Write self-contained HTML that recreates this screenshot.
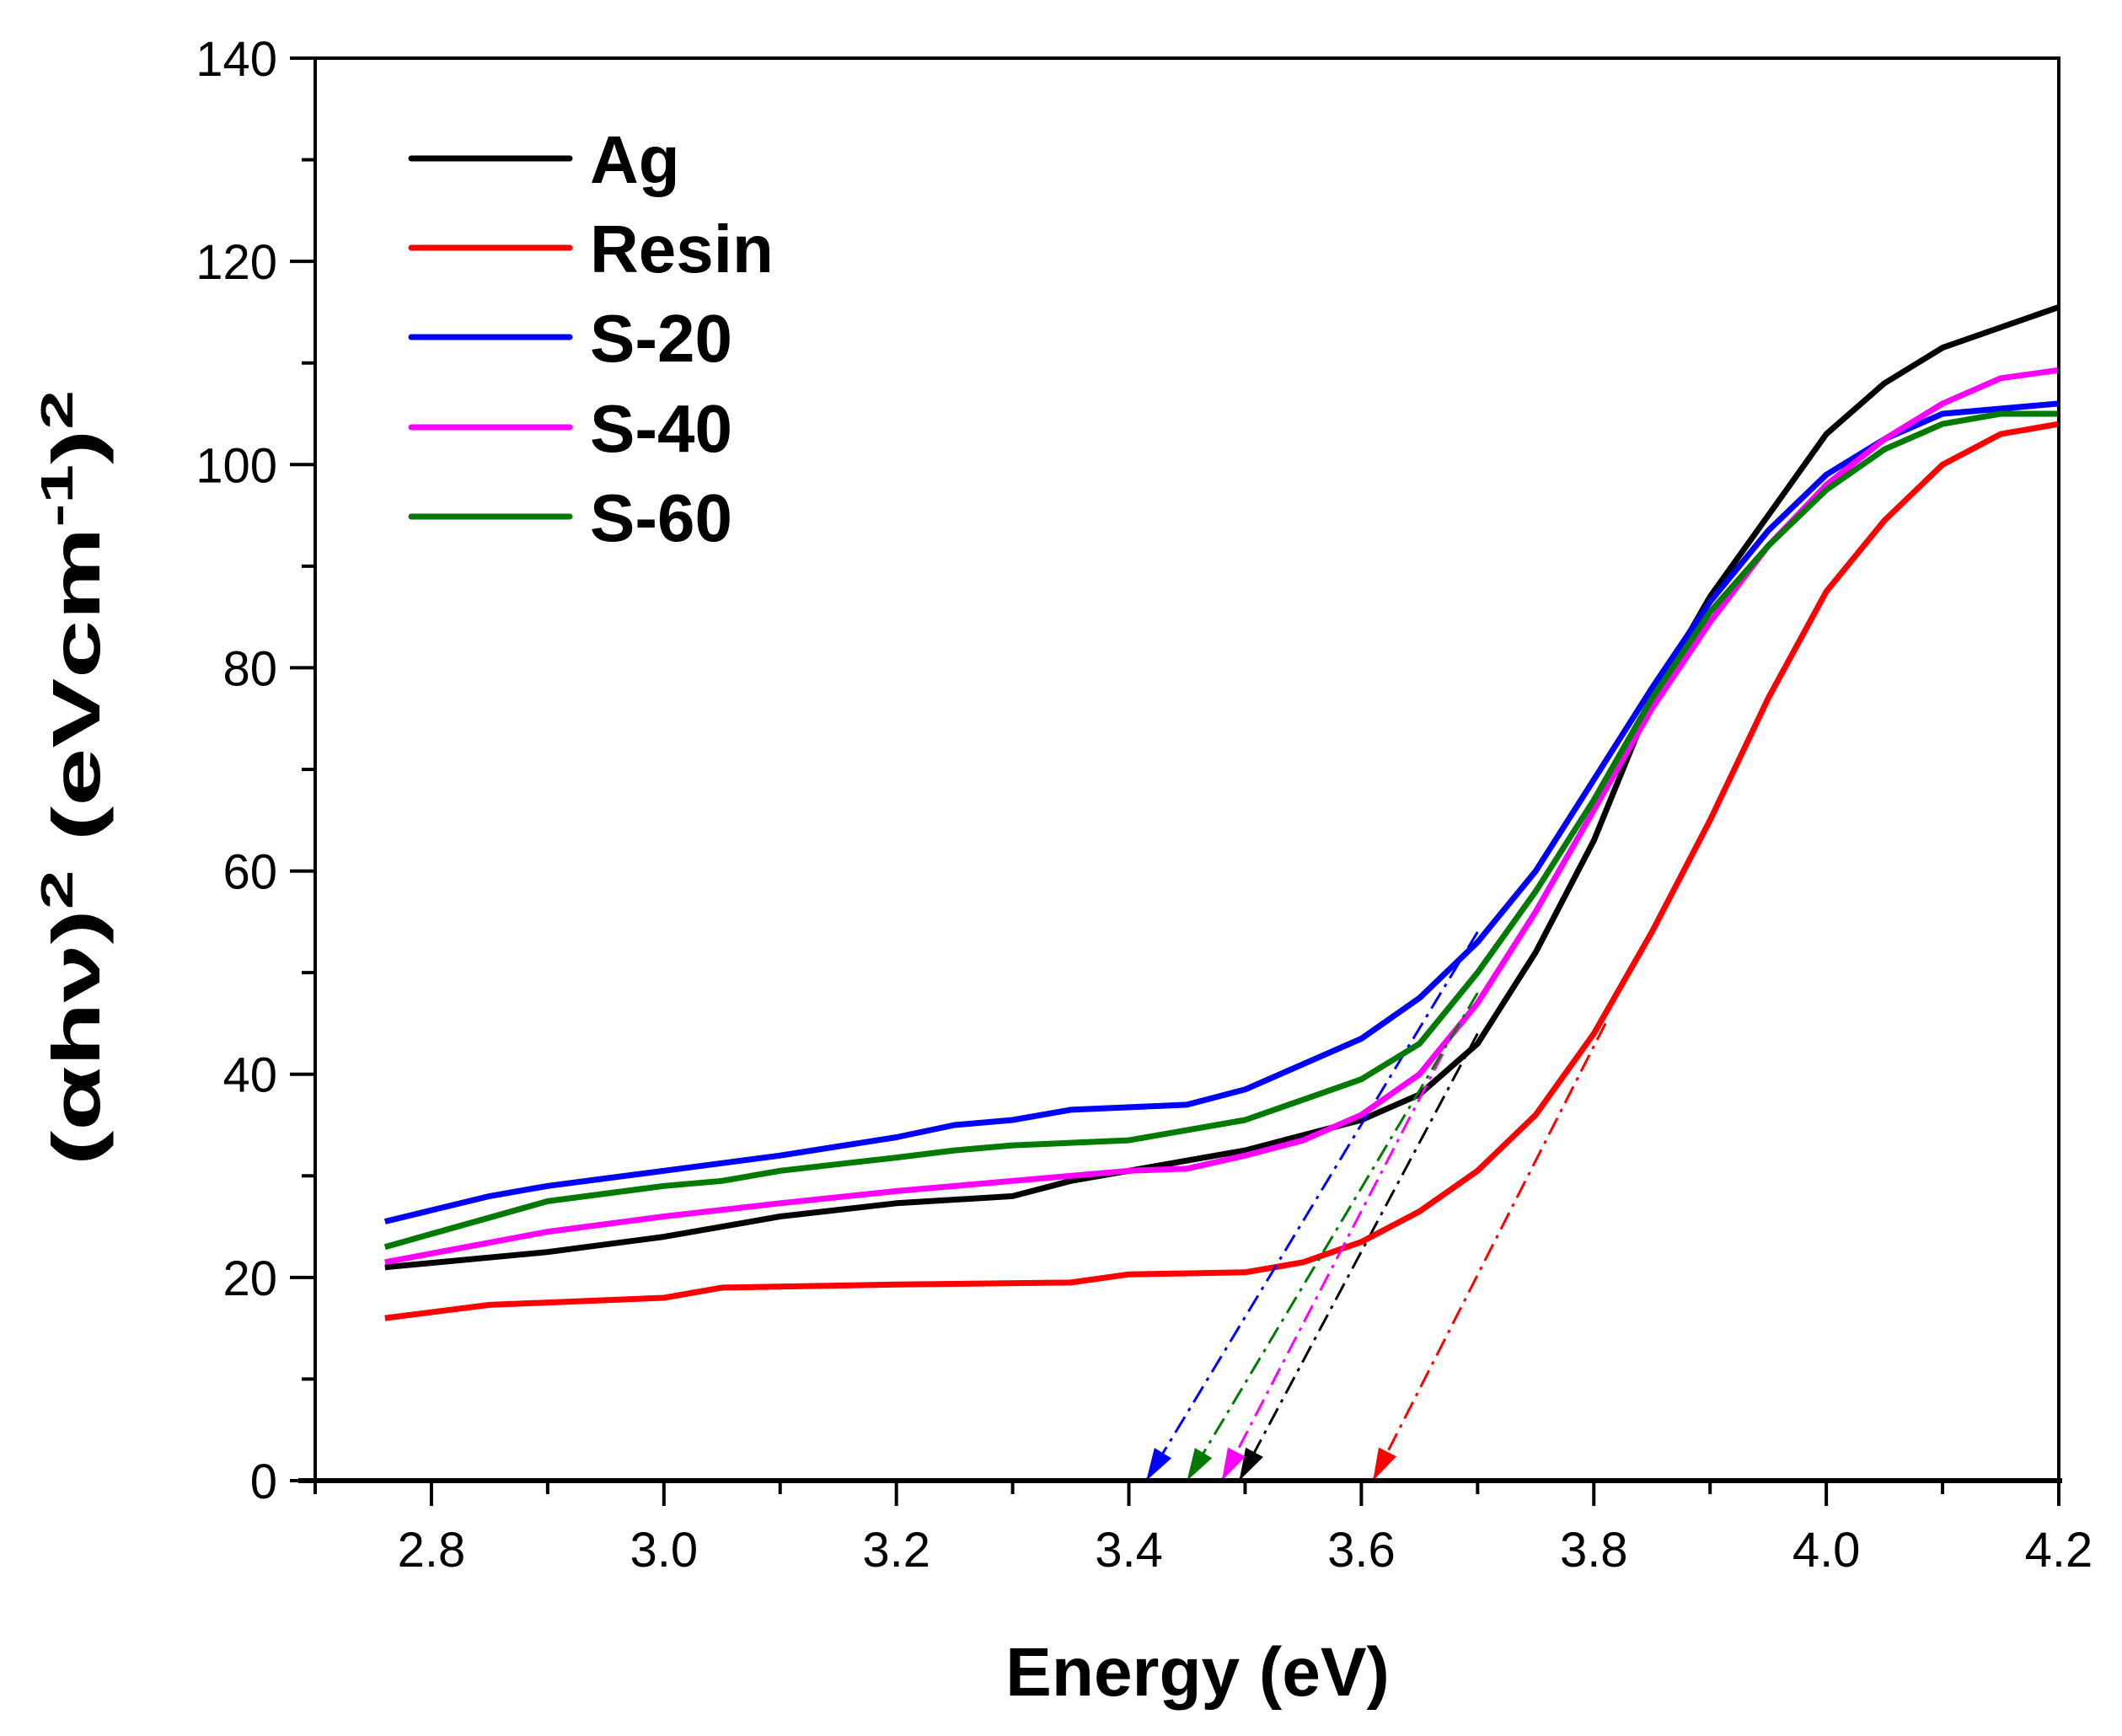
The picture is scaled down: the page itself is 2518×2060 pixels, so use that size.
<!DOCTYPE html>
<html><head><meta charset="utf-8"><style>
html,body{margin:0;padding:0;background:#fff;}
svg{display:block;font-family:"Liberation Sans",Arial,sans-serif;}
</style></head><body>
<svg id="chart" width="2518" height="2060" viewBox="0 0 2518 2060" xmlns="http://www.w3.org/2000/svg">
<rect width="2518" height="2060" fill="#fff"/>
<g id="marks"></g>
<g id="axes"></g>
<text x="1421" y="2012" font-size="82" font-weight="bold" text-anchor="middle">Energy (eV)</text>
<text transform="translate(118,923) rotate(-90)" font-size="80" font-weight="bold" text-anchor="middle" textLength="920" lengthAdjust="spacingAndGlyphs">(αhν)<tspan dy="-32" font-size="54">2</tspan><tspan dy="32"> (eVcm</tspan><tspan dy="-32" font-size="54">-1</tspan><tspan dy="32">)</tspan><tspan dy="-32" font-size="54">2</tspan></text>
</svg>
<script>
const xTicks=[2.8,3.0,3.2,3.4,3.6,3.8,4.0,4.2];
const yTicks=[0,20,40,60,80,100,120,140];
const seriesNames=["Ag","Resin","S-20","S-40","S-60"];
const seriesColors=["#000000","#ff0000","#0000ff","#ff00ff","#007a00"];
const xAg=[2.76,2.9,3.0,3.05,3.1,3.2,3.3,3.35,3.4,3.5,3.6,3.65,3.7,3.75,3.8,3.85,3.9,3.95,4.0,4.05,4.1,4.15,4.2];
const yAg=[21,22.5,24,25,26,27.3,28,29.5,30.5,32.5,35.5,38,43,52,63,77,87,95,103,108,111.5,113.5,115.5];
const xResin=[2.76,2.85,3.0,3.05,3.2,3.35,3.4,3.5,3.55,3.6,3.65,3.7,3.75,3.8,3.85,3.9,3.95,4.0,4.05,4.1,4.15,4.2];
const yResin=[16,17.3,18,19,19.3,19.5,20.3,20.5,21.5,23.5,26.5,30.5,36,44,54,65,77,87.5,94.5,100,103,104];
const xS20=[2.76,2.85,2.9,3.0,3.1,3.2,3.25,3.3,3.35,3.45,3.5,3.55,3.6,3.65,3.7,3.75,3.8,3.85,3.9,3.95,4.0,4.05,4.1,4.2];
const yS20=[25.5,28,29,30.5,32,33.8,35,35.5,36.5,37,38.5,41,43.5,47.5,53,60,69,78,86.5,93.5,99,102.5,105,106];
const xS40=[2.76,2.9,3.0,3.1,3.2,3.3,3.4,3.45,3.5,3.55,3.6,3.65,3.7,3.75,3.8,3.85,3.9,3.95,4.0,4.05,4.1,4.15,4.2];
const yS40=[21.5,24.5,26,27.3,28.5,29.5,30.5,30.7,32,33.5,36,40,47,56,66,76,84.5,92,98,102.5,106,108.5,109.3];
const xS60=[2.76,2.9,3.0,3.05,3.1,3.2,3.25,3.3,3.4,3.5,3.55,3.6,3.65,3.7,3.75,3.8,3.85,3.9,3.95,4.0,4.05,4.1,4.15,4.2];
const yS60=[23,27.5,29,29.5,30.5,31.8,32.5,33,33.5,35.5,37.5,39.5,43,50,58,67,77,85.5,92,97.5,101.5,104,105,105];
// tangent fits: [x at y=0, x at top, y at top]
const fitX0=[3.495,3.61,3.415,3.48,3.45];
const fitX1=[3.70,3.81,3.70,3.67,3.70];
const fitY1=[44,45,54,42,48];

const L=374,R=2443,T=69,B=1757;
const sx=v=>L+(v-2.7)/(4.2-2.7)*(R-L);
const sy=v=>B-v/140*(B-T);
const NS="http://www.w3.org/2000/svg";
function mk(tag,attrs,parent){const e=document.createElementNS(NS,tag);for(const k in attrs)e.setAttribute(k,attrs[k]);parent.appendChild(e);return e;}
const marks=document.getElementById('marks'),axes=document.getElementById('axes');
const xs=[xAg,xResin,xS20,xS40,xS60],ys=[yAg,yResin,yS20,yS40,yS60];
for(let i=0;i<5;i++){
  const d=xs[i].map((x,j)=>(j?'L':'M')+sx(x).toFixed(1)+','+sy(ys[i][j]).toFixed(1)).join(' ');
  const p=mk('path',{d:d,fill:'none',stroke:seriesColors[i],'stroke-width':7,'stroke-linejoin':'round'},marks);
  
  
  const x0=sx(fitX0[i]),y0=sy(0),x1=sx(fitX1[i]),y1=sy(fitY1[i]);
  const f=mk('line',{x1:x1,y1:y1,x2:x0,y2:y0,stroke:seriesColors[i],'stroke-width':3,'stroke-dasharray':'22,8,4,8'},marks);
  
  
  const ang=Math.atan2(y0-y1,x0-x1),a=40,w=0.3;
  const ah=mk('polygon',{points:`${x0},${y0} ${x0-a*Math.cos(ang-w)},${y0-a*Math.sin(ang-w)} ${x0-a*Math.cos(ang+w)},${y0-a*Math.sin(ang+w)}`,fill:seriesColors[i]},marks);
  
  
}
const frame=mk('rect',{x:L,y:T,width:R-L,height:B-T,fill:'none',stroke:'#000','stroke-width':4},axes);


mk('line',{x1:L-20,y1:B,x2:R+4,y2:B,stroke:'#000','stroke-width':6},axes);
for(const v of xTicks){
  mk('line',{x1:sx(v),y1:B,x2:sx(v),y2:B+30,stroke:'#000','stroke-width':4},axes);
  const t=mk('text',{x:sx(v),y:B+102,'font-size':58,'text-anchor':'middle'},axes);t.textContent=v.toFixed(1);
  
  
}
for(let v=2.7;v<4.2;v+=0.2){mk('line',{x1:sx(v),y1:B,x2:sx(v),y2:B+16,stroke:'#000','stroke-width':4},axes);}
for(const v of yTicks){
  mk('line',{x1:L-30,y1:sy(v),x2:L,y2:sy(v),stroke:'#000','stroke-width':4},axes);
  const t=mk('text',{x:L-45,y:sy(v)+21,'font-size':58,'text-anchor':'end'},axes);t.textContent=v;
  
  
}
for(let v=10;v<140;v+=20){mk('line',{x1:L-16,y1:sy(v),x2:L,y2:sy(v),stroke:'#000','stroke-width':4},axes);}
const legY=[188,294,400,507,613];
for(let i=0;i<5;i++){
  const g=mk('g',{},axes);
  
  
  mk('line',{x1:488,y1:legY[i],x2:676,y2:legY[i],stroke:seriesColors[i],'stroke-width':7,'stroke-linecap':'round'},g);
  const t=mk('text',{x:700,y:legY[i]+29,'font-size':80,'font-weight':'bold'},g);t.textContent=seriesNames[i];
}
</script>
</body></html>
